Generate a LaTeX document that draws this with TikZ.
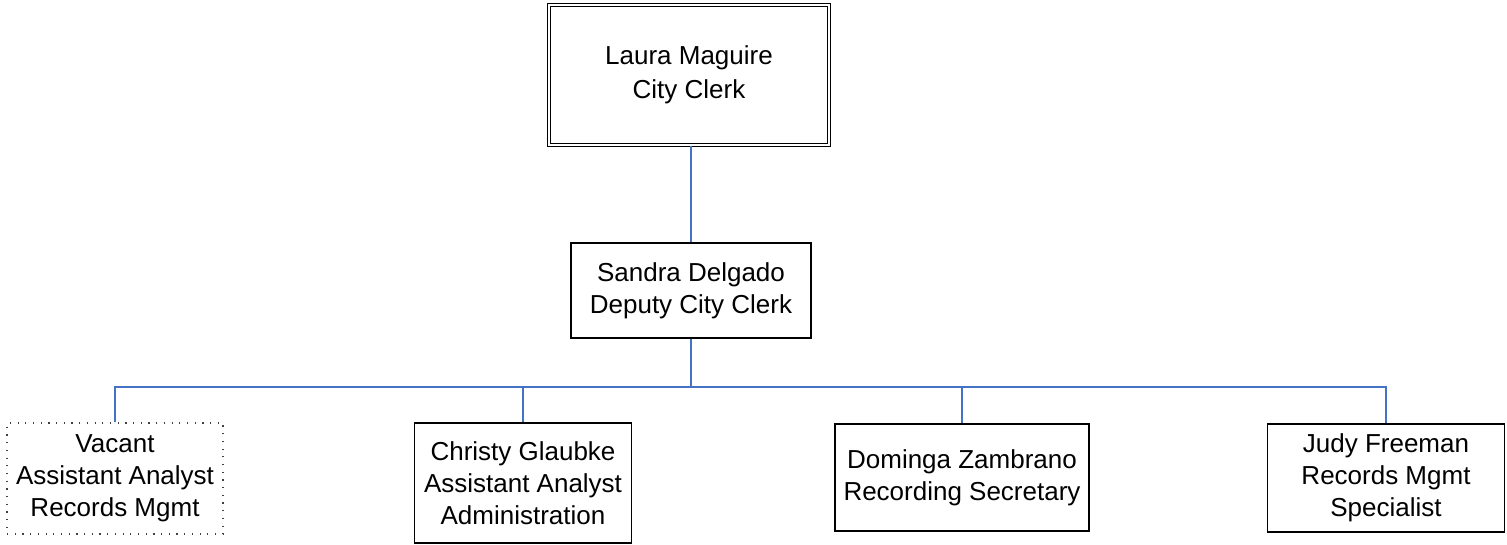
\documentclass[tikz,border=0pt]{standalone}
\usepackage{fontspec}
\setmainfont{Liberation Sans}
\definecolor{linkblue}{HTML}{4472C4}
\begin{document}
\begin{tikzpicture}[x=1pt,y=-1pt,
    box/.style={draw,line width=1.4pt,align=center,inner sep=0pt,
      font=\fontsize{26}{32}\selectfont},
    vacantbox/.style={box,line width=1.2pt,dash pattern=on 1.2pt off 6.5pt,draw=black!75},
    headbox/.style={box,double,double distance=2.2pt,line width=1.2pt,
      font=\fontsize{26}{34}\selectfont},
    link/.style={draw=linkblue,line width=1.3pt}]
    \useasboundingbox (0,0) rectangle (1507,545);
    % people
    \node[headbox,minimum width=280pt,minimum height=140pt] (laura) at (689,75) {Laura Maguire\\City Clerk};
    \node[box,minimum width=240pt,minimum height=95pt] (sandra) at (691,290.5) {Sandra Delgado\\Deputy City Clerk};
    \node[vacantbox,minimum width=216pt,minimum height=111pt] (vacant) at (115,478.5) {Vacant\\Assistant Analyst\\Records Mgmt};
    \node[box,minimum width=217pt,minimum height=120pt] (christy) at (523,483) {Christy Glaubke\\Assistant Analyst\\Administration};
    \node[box,minimum width=254pt,minimum height=107pt] (dominga) at (962,477.5) {Dominga Zambrano\\Recording Secretary};
    \node[box,minimum width=237pt,minimum height=108pt] (judy) at (1386,478) {Judy Freeman\\Records Mgmt\\Specialist};
    % lines
    \coordinate (bus) at (691,387);
    \draw[link] (laura.south -| sandra.north) -- (sandra.north);
    \draw[link] (sandra.south) -- (bus);
    \draw[link] (bus) -| (vacant.north);
    \draw[link] (bus) -| (christy.north);
    \draw[link] (bus) -| (dominga.north);
    \draw[link] (bus) -| (judy.north);
\end{tikzpicture}
\end{document}
